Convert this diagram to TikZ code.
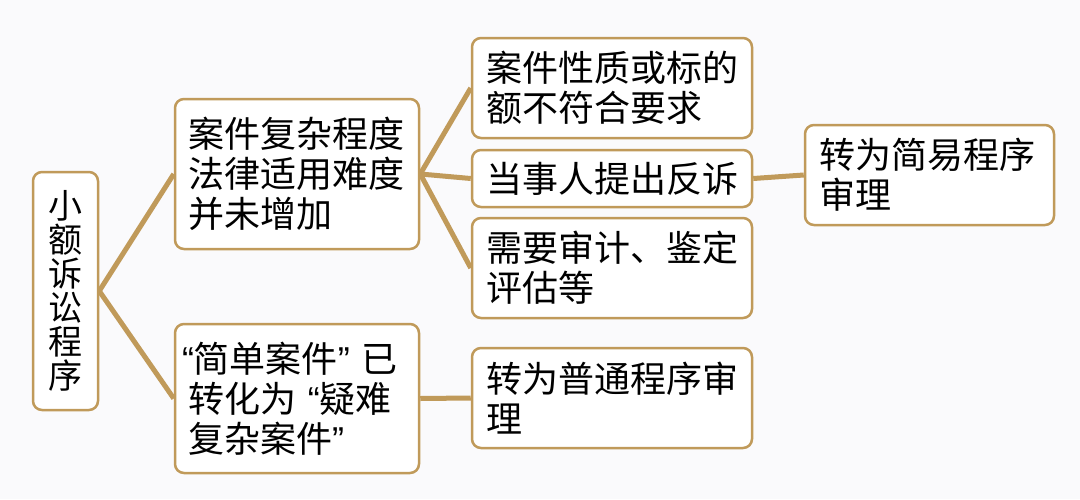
\documentclass[tikz,border=0pt]{standalone}
\usepackage{fontspec}
\setmainfont{Noto Sans CJK SC}
\newfontfamily\lat{Liberation Sans}
\definecolor{bgcol}{HTML}{FAFAFC}
\definecolor{tan}{HTML}{C09A5A}
\tikzset{
  box/.style={draw=tan, line width=2.5pt, rounded corners=9pt, fill=white,
    inner xsep=14pt, inner ysep=0pt, align=left,
    font=\fontsize{36pt}{40pt}\selectfont, text=black},
  conn/.style={draw=tan, line width=5pt},
}
\begin{document}
\begin{tikzpicture}[x=1pt,y=-1pt]
\fill[bgcol] (0,0) rectangle (1080,499);
\useasboundingbox (0,0) rectangle (1080,499);
\node[box, align=center, inner xsep=0pt, minimum width=65pt, minimum height=238pt,
  font=\fontsize{34pt}{34pt}\selectfont] (root) at (65.5,291) {小\\额\\诉\\讼\\程\\序};
\node[box, text width=218pt, minimum height=150pt, inner xsep=13pt] (A) at (297,174)
  {案件复杂程度\\法律适用难度\\并未增加};
\node[box, text width=230pt, minimum height=149pt, inner xsep=7pt] (B) at (297,398.5)
  {{\lat“}简单案件{\lat”\ }已\\\hspace*{6pt}转化为{\lat\ “}疑难\\\hspace*{6pt}复杂案件{\lat”}};
\node[box, text width=252pt, minimum height=100pt] (C1) at (612,88)
  {案件性质或标的\\额不符合要求};
\node[box, text width=252pt, minimum height=57pt] (C2) at (612,178.5)
  {当事人提出反诉};
\node[box, text width=252pt, minimum height=100pt] (C3) at (612,268)
  {需要审计、鉴定\\评估等};
\node[box, text width=221pt, minimum height=100pt] (D) at (929.5,175)
  {转为简易程序\\审理};
\node[box, text width=252pt, minimum height=100pt] (E) at (612,398)
  {转为普通程序审\\理};
\draw[conn] (root.east) -- (A.west);
\draw[conn] (root.east) -- (B.west);
\draw[conn] (A.east) -- (C1.west);
\draw[conn] (A.east) -- (C2.west);
\draw[conn] (A.east) -- (C3.west);
\draw[conn] (C2.east) -- (D.west);
\draw[conn] (B.east) -- (E.west);
\end{tikzpicture}
\end{document}
